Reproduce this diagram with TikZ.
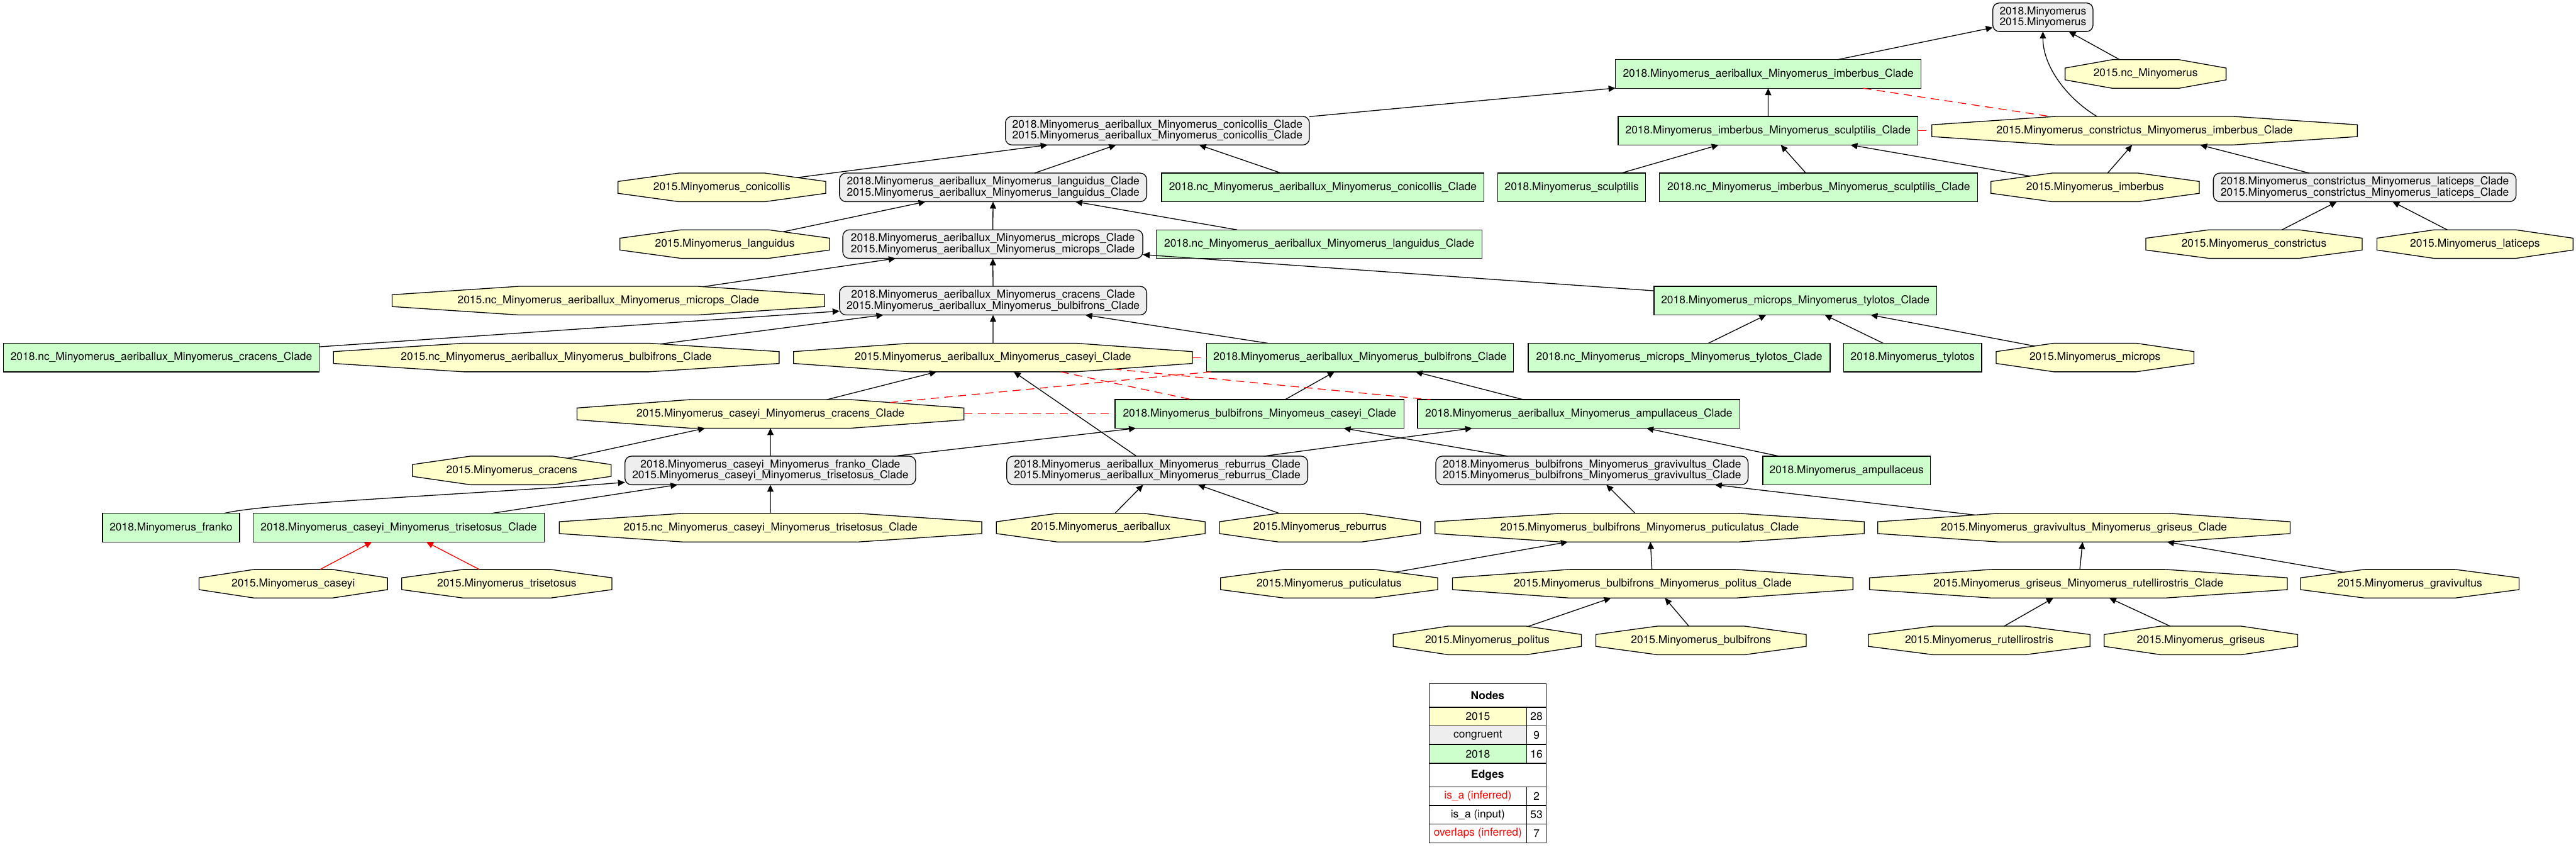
\documentclass[tikz,border=0pt]{standalone}
\usepackage{fontspec}
\setmainfont{TeX Gyre Heros}
\usetikzlibrary{arrows.meta}
\makeatletter
\newdimen\oct@cx \newdimen\oct@cy \newdimen\oct@a \newdimen\oct@b
\newdimen\oct@ka \newdimen\oct@kb
\def\oct@setup{%
  \pgf@process{\southwest}\pgf@xa=\pgf@x \pgf@ya=\pgf@y
  \pgf@process{\northeast}\pgf@xb=\pgf@x \pgf@yb=\pgf@y
  \oct@cx=.5\pgf@xa \advance\oct@cx by .5\pgf@xb
  \oct@cy=.5\pgf@ya \advance\oct@cy by .5\pgf@yb
  \oct@a=.5\pgf@xb \advance\oct@a by -.5\pgf@xa
  \oct@b=.5\pgf@yb \advance\oct@b by -.5\pgf@ya
  \oct@ka=0.41421\oct@a \oct@kb=0.41421\oct@b}
\pgfdeclareshape{octo}{%
  \inheritsavedanchors[from=rectangle]%
  \inheritanchor[from=rectangle]{center}%
  \inheritanchor[from=rectangle]{text}%
  \inheritanchor[from=rectangle]{base}%
  \inheritanchor[from=rectangle]{mid}%
  \inheritanchor[from=rectangle]{north}%
  \inheritanchor[from=rectangle]{south}%
  \inheritanchor[from=rectangle]{east}%
  \inheritanchor[from=rectangle]{west}%
  \inheritanchor[from=rectangle]{north east}%
  \inheritanchor[from=rectangle]{north west}%
  \inheritanchor[from=rectangle]{south east}%
  \inheritanchor[from=rectangle]{south west}%
  \backgroundpath{%
    \oct@setup
    \pgfpathmoveto{\pgfqpoint{\dimexpr\oct@cx+\oct@a\relax}{\dimexpr\oct@cy+\oct@kb\relax}}%
    \pgfpathlineto{\pgfqpoint{\dimexpr\oct@cx+\oct@ka\relax}{\dimexpr\oct@cy+\oct@b\relax}}%
    \pgfpathlineto{\pgfqpoint{\dimexpr\oct@cx-\oct@ka\relax}{\dimexpr\oct@cy+\oct@b\relax}}%
    \pgfpathlineto{\pgfqpoint{\dimexpr\oct@cx-\oct@a\relax}{\dimexpr\oct@cy+\oct@kb\relax}}%
    \pgfpathlineto{\pgfqpoint{\dimexpr\oct@cx-\oct@a\relax}{\dimexpr\oct@cy-\oct@kb\relax}}%
    \pgfpathlineto{\pgfqpoint{\dimexpr\oct@cx-\oct@ka\relax}{\dimexpr\oct@cy-\oct@b\relax}}%
    \pgfpathlineto{\pgfqpoint{\dimexpr\oct@cx+\oct@ka\relax}{\dimexpr\oct@cy-\oct@b\relax}}%
    \pgfpathlineto{\pgfqpoint{\dimexpr\oct@cx+\oct@a\relax}{\dimexpr\oct@cy-\oct@kb\relax}}%
    \pgfpathclose}%
  \anchorborder{%
    \edef\oct@dx{\the\pgf@x}\edef\oct@dy{\the\pgf@y}%
    \oct@setup
    \edef\oct@A{\the\oct@a}\edef\oct@B{\the\oct@b}%
    \pgfmathsetmacro\oct@X{abs(\oct@dx)/\oct@A}%
    \pgfmathsetmacro\oct@Y{abs(\oct@dy)/\oct@B}%
    \pgfmathsetmacro\oct@S{1/max(\oct@X,\oct@Y,(\oct@X+\oct@Y)/1.41421,0.001)}%
    \pgf@x=\oct@dx\relax \pgf@x=\oct@S\pgf@x \advance\pgf@x by\oct@cx
    \pgf@y=\oct@dy\relax \pgf@y=\oct@S\pgf@y \advance\pgf@y by\oct@cy}%
}
\makeatother
\definecolor{yfill}{HTML}{FFFFCC}
\definecolor{gfill}{HTML}{CCFFCC}
\definecolor{cfill}{HTML}{EEEEEE}
\tikzset{
  nbase/.style={draw=black, line width=0.75pt, inner sep=0pt, outer sep=0pt,
    minimum height=26.1pt, align=center, font=\fontsize{10}{9.9}\selectfont},
  yl/.style={nbase, shape=octo, fill=yfill, minimum width=#1*1.5pt},
  gn/.style={nbase, rectangle, fill=gfill, minimum width=#1*1.5pt},
  gy/.style={nbase, rectangle, rounded corners=6pt, fill=cfill, minimum width=#1*1.5pt},
  isa/.style={line width=0.75pt, -{Triangle[length=6.3pt,width=5.7pt]}},
  inf/.style={isa, red},
  ovl/.style={line width=0.75pt, red, dash pattern=on 7.5pt off 5pt},
  lg/.style={draw=black, line width=0.75pt, inner sep=0pt, outer sep=0pt,
    font=\fontsize{10}{10}\selectfont},
}
\begin{document}
\begin{tikzpicture}[x=1.5pt, y=-1.5pt]
\useasboundingbox[fill=white] (0,0) rectangle (1568,515);
% row 1-2
\node[gy=61] (root) at (1243.5,10.5) {2018.Minyomerus\\2015.Minyomerus};
\node[gn=186] (A) at (1076.3,45) {2018.Minyomerus\_aeriballux\_Minyomerus\_imberbus\_Clade};
\node[yl=98] (ncMin) at (1306,45) {2015.nc\_Minyomerus};
% row 3
\node[gy=185] (B) at (704.5,79.5) {2018.Minyomerus\_aeriballux\_Minyomerus\_conicollis\_Clade\\2015.Minyomerus\_aeriballux\_Minyomerus\_conicollis\_Clade};
\node[gn=182.5] (C) at (1076.2,79.5) {2018.Minyomerus\_imberbus\_Minyomerus\_sculptilis\_Clade};
\node[yl=259] (D) at (1305.4,79.5) {2015.Minyomerus\_constrictus\_Minyomerus\_imberbus\_Clade};
% row 4
\node[yl=126.5] (conic) at (439.4,114) {2015.Minyomerus\_conicollis};
\node[gy=187] (E) at (604.5,114) {2018.Minyomerus\_aeriballux\_Minyomerus\_languidus\_Clade\\2015.Minyomerus\_aeriballux\_Minyomerus\_languidus\_Clade};
\node[gn=196.3] (nccon) at (805.2,114) {2018.nc\_Minyomerus\_aeriballux\_Minyomerus\_conicollis\_Clade};
\node[gn=90] (sculp) at (956.7,114) {2018.Minyomerus\_sculptilis};
\node[gn=193.7] (ncimb) at (1107,114) {2018.nc\_Minyomerus\_imberbus\_Minyomerus\_sculptilis\_Clade};
\node[yl=126.8] (imber) at (1275.3,114) {2015.Minyomerus\_imberbus};
\node[gy=184.3] (F) at (1439.4,114) {2018.Minyomerus\_constrictus\_Minyomerus\_laticeps\_Clade\\2015.Minyomerus\_constrictus\_Minyomerus\_laticeps\_Clade};
% row 5
\node[yl=127.7] (lang) at (441.2,148.5) {2015.Minyomerus\_languidus};
\node[gy=182.6] (G) at (604.3,148.5) {2018.Minyomerus\_aeriballux\_Minyomerus\_microps\_Clade\\2015.Minyomerus\_aeriballux\_Minyomerus\_microps\_Clade};
\node[gn=198.3] (nclang) at (803,148.5) {2018.nc\_Minyomerus\_aeriballux\_Minyomerus\_languidus\_Clade};
\node[yl=131.7] (constr) at (1372,148.5) {2015.Minyomerus\_constrictus};
\node[yl=119.4] (latic) at (1506.5,148.5) {2015.Minyomerus\_laticeps};
% row 6
\node[yl=263.3] (ncmic) at (370.3,182.9) {2015.nc\_Minyomerus\_aeriballux\_Minyomerus\_microps\_Clade};
\node[gy=187] (H) at (604.5,182.9) {2018.Minyomerus\_aeriballux\_Minyomerus\_cracens\_Clade\\2015.Minyomerus\_aeriballux\_Minyomerus\_bulbifrons\_Clade};
\node[gn=172] (I) at (1092.8,182.9) {2018.Minyomerus\_microps\_Minyomerus\_tylotos\_Clade};
% row 7
\node[gn=192.4] (nccrac) at (98.2,217.5) {2018.nc\_Minyomerus\_aeriballux\_Minyomerus\_cracens\_Clade};
\node[yl=271.3] (ncbulb) at (338.6,217.5) {2015.nc\_Minyomerus\_aeriballux\_Minyomerus\_bulbifrons\_Clade};
\node[yl=242.8] (J) at (604.4,217.5) {2015.Minyomerus\_aeriballux\_Minyomerus\_caseyi\_Clade};
\node[gn=187] (K) at (827.8,217.5) {2018.Minyomerus\_aeriballux\_Minyomerus\_bulbifrons\_Clade};
\node[gn=183.8] (ncmt) at (1022.1,217.5) {2018.nc\_Minyomerus\_microps\_Minyomerus\_tylotos\_Clade};
\node[gn=84] (tylo) at (1164.2,217.5) {2018.Minyomerus\_tylotos};
\node[yl=120.4] (micr) at (1275.2,217.5) {2015.Minyomerus\_microps};
% row 8
\node[yl=235.5] (L) at (469,251.8) {2015.Minyomerus\_caseyi\_Minyomerus\_cracens\_Clade};
\node[gn=176] (M) at (766.7,251.8) {2018.Minyomerus\_bulbifrons\_Minyomeus\_caseyi\_Clade};
\node[gn=196.2] (N) at (961,251.8) {2018.Minyomerus\_aeriballux\_Minyomerus\_ampullaceus\_Clade};
% row 9
\node[yl=121] (crac) at (311.5,286.2) {2015.Minyomerus\_cracens};
\node[gy=177] (O) at (468.9,286.2) {2018.Minyomerus\_caseyi\_Minyomerus\_franko\_Clade\\2015.Minyomerus\_caseyi\_Minyomerus\_trisetosus\_Clade};
\node[gy=183.2] (P) at (704.4,286.2) {2018.Minyomerus\_aeriballux\_Minyomerus\_reburrus\_Clade\\2015.Minyomerus\_aeriballux\_Minyomerus\_reburrus\_Clade};
\node[gy=190.1] (Q) at (969,286.2) {2018.Minyomerus\_bulbifrons\_Minyomerus\_gravivultus\_Clade\\2015.Minyomerus\_bulbifrons\_Minyomerus\_gravivultus\_Clade};
\node[gn=102] (ampu) at (1124,286.2) {2018.Minyomerus\_ampullaceus};
% row 10
\node[gn=83.4] (frank) at (104.1,321) {2018.Minyomerus\_franko};
\node[gn=177.3] (R) at (242.7,321) {2018.Minyomerus\_caseyi\_Minyomerus\_trisetosus\_Clade};
\node[yl=257.2] (nctris) at (469,321) {2015.nc\_Minyomerus\_caseyi\_Minyomerus\_trisetosus\_Clade};
\node[yl=127.1] (aeri) at (670,321) {2015.Minyomerus\_aeriballux};
\node[yl=122.4] (rebu) at (803.5,321) {2015.Minyomerus\_reburrus};
\node[yl=261.2] (S) at (1004.1,321) {2015.Minyomerus\_bulbifrons\_Minyomerus\_puticulatus\_Clade};
\node[yl=251] (T) at (1268.5,321) {2015.Minyomerus\_gravivultus\_Minyomerus\_griseus\_Clade};
% row 11
\node[yl=114.7] (casey) at (178.5,355.1) {2015.Minyomerus\_caseyi};
\node[yl=128] (trise) at (308.5,355.1) {2015.Minyomerus\_trisetosus};
\node[yl=132.2] (putic) at (809,355.1) {2015.Minyomerus\_puticulatus};
\node[yl=243.8] (U) at (1006,355.1) {2015.Minyomerus\_bulbifrons\_Minyomerus\_politus\_Clade};
\node[yl=254.3] (V) at (1265.1,355.1) {2015.Minyomerus\_griseus\_Minyomerus\_rutellirostris\_Clade};
\node[yl=133] (gravi) at (1466.8,355.1) {2015.Minyomerus\_gravivultus};
% row 12
\node[yl=114.6] (polit) at (905.3,389.6) {2015.Minyomerus\_politus};
\node[yl=128] (bulbi) at (1035.4,389.6) {2015.Minyomerus\_bulbifrons};
\node[yl=135] (rutel) at (1204.7,389.6) {2015.Minyomerus\_rutellirostris};
\node[yl=117.8] (grise) at (1339.7,389.6) {2015.Minyomerus\_griseus};

% is_a edges
\draw[isa] (A) -- (root);
\draw[isa] (ncMin) -- (root);
\draw[isa] ([xshift=-43.6pt]D.north) .. controls (1259,60.4) and (1243.5,41.1) .. (root.south);
\draw[isa] (C) -- (A);
\draw[isa] (B) -- (A);
\draw[isa] (conic) -- (B);
\draw[isa] (E) -- (B);
\draw[isa] (nccon) -- (B);
\draw[isa] (sculp) -- (C);
\draw[isa] (ncimb) -- (C);
\draw[isa] (imber) -- (C);
\draw[isa] (imber) -- (D);
\draw[isa] (F) -- (D);
\draw[isa] (lang) -- (E);
\draw[isa] (G) -- (E);
\draw[isa] (nclang) -- (E);
\draw[isa] (constr) -- (F);
\draw[isa] (latic) -- (F);
\draw[isa] (ncmic) -- (G);
\draw[isa] (H) -- (G);
\draw[isa] (I) -- (G);
\draw[isa] (nccrac) -- (H);
\draw[isa] (ncbulb) -- (H);
\draw[isa] (J) -- (H);
\draw[isa] (K) -- (H);
\draw[isa] (ncmt) -- (I);
\draw[isa] (tylo) -- (I);
\draw[isa] (micr) -- (I);
\draw[isa] (L) -- (J);
\draw[isa] (P) -- (J);
\draw[isa] (M) -- (K);
\draw[isa] (N) -- (K);
\draw[isa] (crac) -- (L);
\draw[isa] (O) -- (L);
\draw[isa] (O) -- (M);
\draw[isa] (P) -- (N);
\draw[isa] (Q) -- (M);
\draw[isa] (ampu) -- (N);
\draw[isa] (frank) .. controls (160,306) and (300,300) .. (O);
\draw[isa] (R) -- (O);
\draw[isa] (nctris) -- (O);
\draw[isa] (aeri) -- (P);
\draw[isa] (rebu) -- (P);
\draw[isa] (S) -- (Q);
\draw[isa] (T) -- (Q);
\draw[isa] (putic) -- (S);
\draw[isa] (U) -- (S);
\draw[isa] (V) -- (T);
\draw[isa] (gravi) -- (T);
\draw[isa] (polit) -- (U);
\draw[isa] (bulbi) -- (U);
\draw[isa] (rutel) -- (V);
\draw[isa] (grise) -- (V);
% inferred is_a
\draw[inf] (casey) -- (R);
\draw[inf] (trise) -- (R);
% overlaps
\draw[ovl] (A) -- (D);
\draw[ovl] (C) -- (D);
\draw[ovl] (J) -- (K);
\draw[ovl] (L) -- (K);
\draw[ovl] (J) -- (M);
\draw[ovl] (J) -- (N);
\draw[ovl] (L) -- (M);

% legend
\node[lg, minimum width=71.4*1.5pt, minimum height=14.4*1.5pt] (lgN) at (905.5,423) {\bfseries Nodes};
\node[lg, fill=yfill, minimum width=59.5*1.5pt, minimum height=11.4*1.5pt] (lgA) at (899.55,436) {2015};
\node[lg, minimum width=11.9*1.5pt, minimum height=11.4*1.5pt] (lgAn) at (935.25,436) {28};
\node[lg, fill=cfill, minimum width=59.5*1.5pt, minimum height=11.3*1.5pt] (lgB) at (899.55,447.25) {congruent};
\node[lg, minimum width=11.9*1.5pt, minimum height=11.3*1.5pt] (lgBn) at (935.25,447.25) {9};
\node[lg, fill=gfill, minimum width=59.5*1.5pt, minimum height=11.5*1.5pt] (lgC) at (899.55,458.65) {2018};
\node[lg, minimum width=11.9*1.5pt, minimum height=11.5*1.5pt] (lgCn) at (935.25,458.65) {16};
\node[lg, minimum width=71.4*1.5pt, minimum height=14.2*1.5pt] (lgE) at (905.5,471.5) {\bfseries Edges};
\node[lg, text=red, minimum width=59.5*1.5pt, minimum height=11.4*1.5pt] (lgD) at (899.55,484.3) {is\_a (inferred)};
\node[lg, minimum width=11.9*1.5pt, minimum height=11.4*1.5pt] (lgDn) at (935.25,484.3) {2};
\node[lg, minimum width=59.5*1.5pt, minimum height=11.3*1.5pt] (lgF) at (899.55,495.65) {is\_a (input)};
\node[lg, minimum width=11.9*1.5pt, minimum height=11.3*1.5pt] (lgFn) at (935.25,495.65) {53};
\node[lg, text=red, minimum width=59.5*1.5pt, minimum height=11.4*1.5pt] (lgG) at (899.55,507) {overlaps (inferred)};
\node[lg, minimum width=11.9*1.5pt, minimum height=11.4*1.5pt] (lgGn) at (935.25,507) {7};
\end{tikzpicture}
\end{document}
